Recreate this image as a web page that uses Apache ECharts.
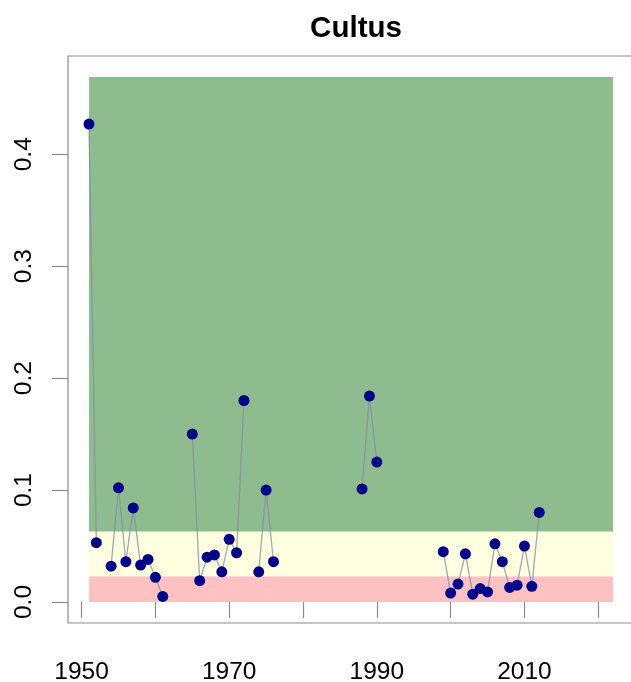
<!DOCTYPE html>
<html>
<head>
<meta charset="utf-8">
<script src="https://cdn.jsdelivr.net/npm/echarts@6/dist/echarts.min.js"></script>
<style>
  html, body { margin: 0; padding: 0; background: #ffffff; }
  #chart { width: 631px; height: 682px; }
</style>
</head>
<body>
<div id="chart"></div>
<script>
// Cultus: yearly values, null where a year has no observation
const years = [
  1951, 1952, 1953, 1954, 1955, 1956, 1957, 1958, 1959, 1960, 1961,
  1962, 1963, 1964, 1965, 1966, 1967, 1968, 1969, 1970, 1971, 1972,
  1973, 1974, 1975, 1976, 1977, 1978, 1979, 1980, 1981, 1982, 1983,
  1984, 1985, 1986, 1987, 1988, 1989, 1990, 1991, 1992, 1993, 1994,
  1995, 1996, 1997, 1998, 1999, 2000, 2001, 2002, 2003, 2004, 2005,
  2006, 2007, 2008, 2009, 2010, 2011, 2012
];
const values = [
  0.427, 0.053, null, 0.032, 0.102, 0.036, 0.084, 0.033, 0.038, 0.022, 0.005,
  null, null, null, 0.150, 0.019, 0.040, 0.042, 0.027, 0.056, 0.044, 0.180,
  null, 0.027, 0.100, 0.036, null, null, null, null, null, null, null,
  null, null, null, null, 0.101, 0.184, 0.125, null, null, null, null,
  null, null, null, null, 0.045, 0.008, 0.016, 0.043, 0.007, 0.012, 0.009,
  0.052, 0.036, 0.013, 0.015, 0.050, 0.014, 0.080
];

// Status bands: red below the lower benchmark, yellow between, green above
const bandYears = [1951, 2022];
const bandBreaks = [0, 0.023, 0.063, 0.469];
const bandColors = ['#ffc1c1', '#ffffe0', '#8fbc8f'];

// Axis ticks
const xTicks = [1950, 1960, 1970, 1980, 1990, 2000, 2010, 2020];
const xLabels = [1950, 1970, 1990, 2010];
const yTicks = [0, 0.1, 0.2, 0.3, 0.4];

// Plot ranges padded by 4% on each side
const xPad = (bandYears[1] - bandYears[0]) * 0.04;
const yPad = (bandBreaks[3] - bandBreaks[0]) * 0.04;

const points = years.map((y, i) => [y, values[i]]);

const bandAreas = bandColors.map((c, i) => [
  { xAxis: bandYears[0], yAxis: bandBreaks[i], itemStyle: { color: c, opacity: 1 } },
  { xAxis: bandYears[1], yAxis: bandBreaks[i + 1] }
]);

const axisFont = { fontFamily: 'Liberation Sans, Arial, sans-serif', fontSize: 24.5, color: '#000' };

const chart = echarts.init(document.getElementById('chart'), null, { renderer: 'canvas' });
chart.setOption({
  backgroundColor: '#ffffff',
  animation: false,
  title: {
    text: 'Cultus',
    left: 351,
    textAlign: 'center',
    top: 9,
    textStyle: { fontFamily: 'Liberation Sans, Arial, sans-serif', fontSize: 29.5, fontWeight: 'bold', color: '#000' }
  },
  grid: {
    left: 68, top: 56, right: -3, bottom: 59,
    outerBoundsMode: 'none',
    show: true, borderColor: '#8c8c8c', borderWidth: 1.2, backgroundColor: 'transparent'
  },
  xAxis: {
    type: 'value',
    min: bandYears[0] - xPad,
    max: bandYears[1] + xPad,
    splitLine: { show: false },
    axisLine: { show: false },
    axisTick: { show: true, customValues: xTicks, length: 16, inside: false, lineStyle: { color: '#8c8c8c', width: 1.2 } },
    axisLabel: { customValues: xLabels, margin: 37, ...axisFont, formatter: v => String(v) }
  },
  yAxis: {
    type: 'value',
    min: bandBreaks[0] - yPad,
    max: bandBreaks[3] + yPad,
    splitLine: { show: false },
    axisLine: { show: false },
    axisTick: { show: true, customValues: yTicks, length: 16, inside: false, lineStyle: { color: '#8c8c8c', width: 1.2 } },
    axisLabel: { customValues: yTicks, rotate: 90, margin: 31, ...axisFont, formatter: v => v.toFixed(1) }
  },
  series: [
    {
      type: 'line',
      data: points,
      connectNulls: false,
      symbol: 'circle',
      symbolSize: 11,
      itemStyle: { color: '#00008b' },
      lineStyle: { color: '#7d8ca8', width: 1.3, opacity: 0.75 },
      markArea: { silent: true, data: bandAreas },
      z: 3
    }
  ]
});
</script>
</body>
</html>
